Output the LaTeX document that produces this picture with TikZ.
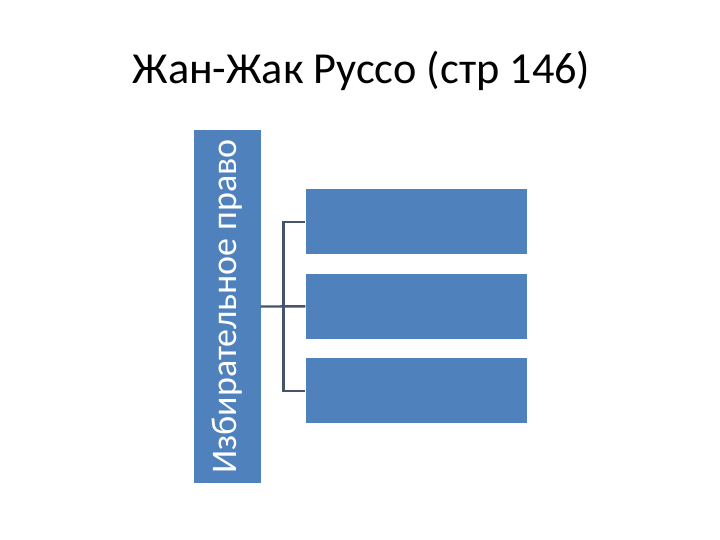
\documentclass[tikz,border=0pt]{standalone}
\usepackage{fontspec}
\setmainfont{Carlito}
\usetikzlibrary{positioning}

\definecolor{boxblue}{HTML}{4F81BD}
\definecolor{linkgrey}{HTML}{44546A}
\tikzset{
  bluebox/.style={fill=boxblue,minimum width=221pt,minimum height=65pt,inner sep=0pt},
  link/.style={color=linkgrey,line width=2.4pt}
}

\begin{document}
\begin{tikzpicture}[x=1pt,y=1pt]
\useasboundingbox (0,0) rectangle (720,540);
\node[anchor=base] (title) at (361.5,456) {\fontsize{44.3}{52}\selectfont Жан-Жак Руссо (стр 146)};
\node[fill=boxblue,rotate=90,minimum width=353pt,minimum height=67pt,inner sep=0pt,text=white] (side) at (227,233.5) {\raisebox{-3pt}{\fontsize{36}{42}\selectfont Избирательное право}};
\node[bluebox] (b1) at (416,318) {};
\node[bluebox,below=19pt of b1] (b2) {};
\node[bluebox,below=19pt of b2] (b3) {};
% links
\draw[link] (side.south) -- (b2.west);
\draw[link] (b1.west) -- ++(-22,0) |- (b3.west);
\end{tikzpicture}
\end{document}
